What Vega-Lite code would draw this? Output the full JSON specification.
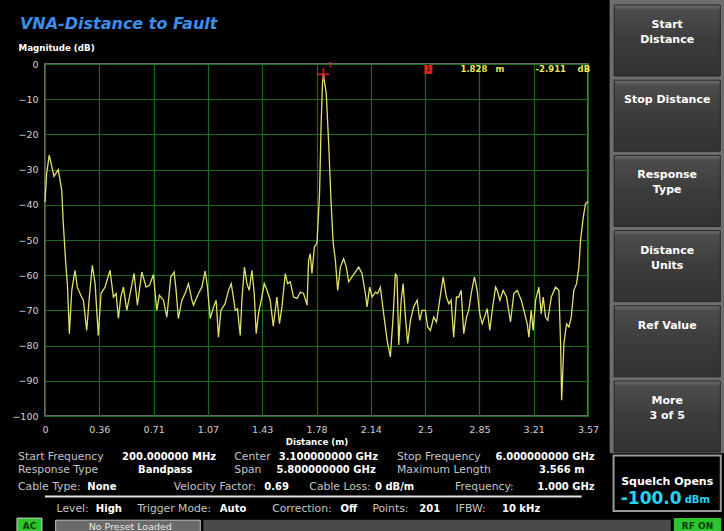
{
  "$schema": "https://vega.github.io/schema/vega-lite/v6.json",
  "width": 543,
  "height": 352,
  "autosize": "none",
  "padding": {"left": 45, "top": 64, "right": 136, "bottom": 115},
  "background": "#000000",
  "config": {
    "view": {"stroke": "#8c8c8c", "strokeWidth": 1.5, "fill": "#000000"},
    "axis": {"labelFont": "DejaVu Sans", "labelFontSize": 9.5, "labelColor": "#d0d0d0", "grid": true, "gridColor": "#1d6a1d", "gridWidth": 1.2, "domain": false, "ticks": false, "titleFont": "DejaVu Sans", "titleFontWeight": "bold", "titleFontSize": 8.7, "titleColor": "#ffffff", "labelFlush": false, "labelOverlap": false},
    "text": {"font": "DejaVu Sans"}
  },
  "layer": [
    {"data": {"values": [{"t": "VNA-Distance to Fault"}]}, "mark": {"type": "text", "align": "left", "baseline": "middle", "fontSize": 16, "fontStyle": "italic", "fontWeight": "bold", "color": "#3a8fea"}, "encoding": {"x": {"datum": -0.1644}, "y": {"datum": 11.3}, "text": {"field": "t"}}},
    {"data": {"values": [{"t": "1"}]}, "mark": {"type": "rect", "fill": "#e02020"}, "encoding": {"x": {"datum": 2.492}, "x2": {"datum": 2.544}, "y": {"datum": -0.28}, "y2": {"datum": -2.84}}},
    {"data": {"values": [{"t": "1"}]}, "mark": {"type": "text", "fontSize": 8, "color": "#3a0000", "baseline": "middle"}, "encoding": {"x": {"datum": 2.518}, "y": {"datum": -1.56}, "text": {"field": "t"}}},
    {"data": {"values": [{"t": "1.828"}]}, "mark": {"type": "text", "fontSize": 8.5, "fontWeight": "bold", "color": "#e6e65a", "align": "left", "baseline": "middle"}, "encoding": {"x": {"datum": 2.7285}, "y": {"datum": -1.5}, "text": {"field": "t"}}},
    {"data": {"values": [{"t": "m"}]}, "mark": {"type": "text", "fontSize": 8.5, "fontWeight": "bold", "color": "#e6e65a", "align": "left", "baseline": "middle"}, "encoding": {"x": {"datum": 2.9586}, "y": {"datum": -1.5}, "text": {"field": "t"}}},
    {"data": {"values": [{"t": "-2.911"}]}, "mark": {"type": "text", "fontSize": 8.5, "fontWeight": "bold", "color": "#e6e65a", "align": "left", "baseline": "middle"}, "encoding": {"x": {"datum": 3.2216}, "y": {"datum": -1.5}, "text": {"field": "t"}}},
    {"data": {"values": [{"t": "dB"}]}, "mark": {"type": "text", "fontSize": 8.5, "fontWeight": "bold", "color": "#e6e65a", "align": "left", "baseline": "middle"}, "encoding": {"x": {"datum": 3.4977}, "y": {"datum": -1.5}, "text": {"field": "t"}}},
    {"data": {"values": [{"t": "Start Frequency"}]}, "mark": {"type": "text", "align": "left", "baseline": "middle", "fontSize": 10.8, "color": "#c4c4c4"}, "encoding": {"x": {"datum": -0.177}, "y": {"datum": -111.6}, "text": {"field": "t"}}},
    {"data": {"values": [{"t": "200.000000 MHz"}]}, "mark": {"type": "text", "align": "left", "baseline": "middle", "fontSize": 10, "fontWeight": "bold", "color": "#ffffff"}, "encoding": {"x": {"datum": 0.506}, "y": {"datum": -111.6}, "text": {"field": "t"}}},
    {"data": {"values": [{"t": "Center"}]}, "mark": {"type": "text", "align": "left", "baseline": "middle", "fontSize": 10.8, "color": "#c4c4c4"}, "encoding": {"x": {"datum": 1.243}, "y": {"datum": -111.6}, "text": {"field": "t"}}},
    {"data": {"values": [{"t": "3.100000000 GHz"}]}, "mark": {"type": "text", "align": "left", "baseline": "middle", "fontSize": 10, "fontWeight": "bold", "color": "#ffffff"}, "encoding": {"x": {"datum": 1.535}, "y": {"datum": -111.6}, "text": {"field": "t"}}},
    {"data": {"values": [{"t": "Stop Frequency"}]}, "mark": {"type": "text", "align": "left", "baseline": "middle", "fontSize": 10.8, "color": "#c4c4c4"}, "encoding": {"x": {"datum": 2.311}, "y": {"datum": -111.6}, "text": {"field": "t"}}},
    {"data": {"values": [{"t": "6.000000000 GHz"}]}, "mark": {"type": "text", "align": "right", "baseline": "middle", "fontSize": 10, "fontWeight": "bold", "color": "#ffffff"}, "encoding": {"x": {"datum": 3.610}, "y": {"datum": -111.6}, "text": {"field": "t"}}},
    {"data": {"values": [{"t": "Response Type"}]}, "mark": {"type": "text", "align": "left", "baseline": "middle", "fontSize": 10.8, "color": "#c4c4c4"}, "encoding": {"x": {"datum": -0.177}, "y": {"datum": -115.3}, "text": {"field": "t"}}},
    {"data": {"values": [{"t": "Bandpass"}]}, "mark": {"type": "text", "align": "left", "baseline": "middle", "fontSize": 10, "fontWeight": "bold", "color": "#ffffff"}, "encoding": {"x": {"datum": 0.611}, "y": {"datum": -115.3}, "text": {"field": "t"}}},
    {"data": {"values": [{"t": "Span"}]}, "mark": {"type": "text", "align": "left", "baseline": "middle", "fontSize": 10.8, "color": "#c4c4c4"}, "encoding": {"x": {"datum": 1.243}, "y": {"datum": -115.3}, "text": {"field": "t"}}},
    {"data": {"values": [{"t": "5.800000000 GHz"}]}, "mark": {"type": "text", "align": "left", "baseline": "middle", "fontSize": 10, "fontWeight": "bold", "color": "#ffffff"}, "encoding": {"x": {"datum": 1.520}, "y": {"datum": -115.3}, "text": {"field": "t"}}},
    {"data": {"values": [{"t": "Maximum Length"}]}, "mark": {"type": "text", "align": "left", "baseline": "middle", "fontSize": 10.8, "color": "#c4c4c4"}, "encoding": {"x": {"datum": 2.311}, "y": {"datum": -115.3}, "text": {"field": "t"}}},
    {"data": {"values": [{"t": "3.566 m"}]}, "mark": {"type": "text", "align": "right", "baseline": "middle", "fontSize": 10, "fontWeight": "bold", "color": "#ffffff"}, "encoding": {"x": {"datum": 3.544}, "y": {"datum": -115.3}, "text": {"field": "t"}}},
    {"data": {"values": [{"t": "Cable Type:"}]}, "mark": {"type": "text", "align": "left", "baseline": "middle", "fontSize": 10.8, "color": "#c4c4c4"}, "encoding": {"x": {"datum": -0.177}, "y": {"datum": -120.2}, "text": {"field": "t"}}},
    {"data": {"values": [{"t": "None"}]}, "mark": {"type": "text", "align": "left", "baseline": "middle", "fontSize": 10, "fontWeight": "bold", "color": "#ffffff"}, "encoding": {"x": {"datum": 0.278}, "y": {"datum": -120.2}, "text": {"field": "t"}}},
    {"data": {"values": [{"t": "Velocity Factor:"}]}, "mark": {"type": "text", "align": "left", "baseline": "middle", "fontSize": 10.8, "color": "#c4c4c4"}, "encoding": {"x": {"datum": 0.845}, "y": {"datum": -120.2}, "text": {"field": "t"}}},
    {"data": {"values": [{"t": "0.69"}]}, "mark": {"type": "text", "align": "left", "baseline": "middle", "fontSize": 10, "fontWeight": "bold", "color": "#ffffff"}, "encoding": {"x": {"datum": 1.440}, "y": {"datum": -120.2}, "text": {"field": "t"}}},
    {"data": {"values": [{"t": "Cable Loss:"}]}, "mark": {"type": "text", "align": "left", "baseline": "middle", "fontSize": 10.8, "color": "#c4c4c4"}, "encoding": {"x": {"datum": 1.736}, "y": {"datum": -120.2}, "text": {"field": "t"}}},
    {"data": {"values": [{"t": "0 dB/m"}]}, "mark": {"type": "text", "align": "left", "baseline": "middle", "fontSize": 10, "fontWeight": "bold", "color": "#ffffff"}, "encoding": {"x": {"datum": 2.167}, "y": {"datum": -120.2}, "text": {"field": "t"}}},
    {"data": {"values": [{"t": "Frequency:"}]}, "mark": {"type": "text", "align": "left", "baseline": "middle", "fontSize": 10.8, "color": "#c4c4c4"}, "encoding": {"x": {"datum": 2.693}, "y": {"datum": -120.2}, "text": {"field": "t"}}},
    {"data": {"values": [{"t": "1.000 GHz"}]}, "mark": {"type": "text", "align": "right", "baseline": "middle", "fontSize": 10, "fontWeight": "bold", "color": "#ffffff"}, "encoding": {"x": {"datum": 3.610}, "y": {"datum": -120.2}, "text": {"field": "t"}}},
    {"data": {"values": [{"t": "Level:"}]}, "mark": {"type": "text", "align": "left", "baseline": "middle", "fontSize": 10.8, "color": "#c4c4c4"}, "encoding": {"x": {"datum": 0.076}, "y": {"datum": -126.4}, "text": {"field": "t"}}},
    {"data": {"values": [{"t": "High"}]}, "mark": {"type": "text", "align": "left", "baseline": "middle", "fontSize": 10, "fontWeight": "bold", "color": "#ffffff"}, "encoding": {"x": {"datum": 0.334}, "y": {"datum": -126.4}, "text": {"field": "t"}}},
    {"data": {"values": [{"t": "Trigger Mode:"}]}, "mark": {"type": "text", "align": "left", "baseline": "middle", "fontSize": 10.8, "color": "#c4c4c4"}, "encoding": {"x": {"datum": 0.607}, "y": {"datum": -126.4}, "text": {"field": "t"}}},
    {"data": {"values": [{"t": "Auto"}]}, "mark": {"type": "text", "align": "left", "baseline": "middle", "fontSize": 10, "fontWeight": "bold", "color": "#ffffff"}, "encoding": {"x": {"datum": 1.148}, "y": {"datum": -126.4}, "text": {"field": "t"}}},
    {"data": {"values": [{"t": "Correction:"}]}, "mark": {"type": "text", "align": "left", "baseline": "middle", "fontSize": 10.8, "color": "#c4c4c4"}, "encoding": {"x": {"datum": 1.492}, "y": {"datum": -126.4}, "text": {"field": "t"}}},
    {"data": {"values": [{"t": "Off"}]}, "mark": {"type": "text", "align": "left", "baseline": "middle", "fontSize": 10, "fontWeight": "bold", "color": "#ffffff"}, "encoding": {"x": {"datum": 1.940}, "y": {"datum": -126.4}, "text": {"field": "t"}}},
    {"data": {"values": [{"t": "Points:"}]}, "mark": {"type": "text", "align": "left", "baseline": "middle", "fontSize": 10.8, "color": "#c4c4c4"}, "encoding": {"x": {"datum": 2.150}, "y": {"datum": -126.4}, "text": {"field": "t"}}},
    {"data": {"values": [{"t": "201"}]}, "mark": {"type": "text", "align": "left", "baseline": "middle", "fontSize": 10, "fontWeight": "bold", "color": "#ffffff"}, "encoding": {"x": {"datum": 2.458}, "y": {"datum": -126.4}, "text": {"field": "t"}}},
    {"data": {"values": [{"t": "IFBW:"}]}, "mark": {"type": "text", "align": "left", "baseline": "middle", "fontSize": 10.8, "color": "#c4c4c4"}, "encoding": {"x": {"datum": 2.696}, "y": {"datum": -126.4}, "text": {"field": "t"}}},
    {"data": {"values": [{"t": "10 kHz"}]}, "mark": {"type": "text", "align": "left", "baseline": "middle", "fontSize": 10, "fontWeight": "bold", "color": "#ffffff"}, "encoding": {"x": {"datum": 3.001}, "y": {"datum": -126.4}, "text": {"field": "t"}}},
    {"data": {"values": [{"t": "separator"}]}, "mark": {"type": "rule", "color": "#e4e4e4", "strokeWidth": 2}, "encoding": {"x": {"datum": 0}, "x2": {"datum": 3.524}, "y": {"datum": -122.9}}},
    {"data": {"values": [{"t": "panel"}]}, "mark": {"type": "rect", "fill": "#6e6e6e"}, "encoding": {"x": {"datum": 3.708}, "x2": {"datum": 4.47}, "y": {"datum": 18.3}, "y2": {"datum": -110.6}}},
    {"data": {"values": [{"label": "Start\nDistance"}]}, "mark": {"type": "rect", "stroke": "#262626", "strokeWidth": 1, "fill": {"gradient": "linear", "x1": 0, "y1": 0, "x2": 0, "y2": 1, "stops": [{"offset": 0, "color": "#707070"}, {"offset": 0.07, "color": "#4c4c4c"}, {"offset": 0.5, "color": "#3c3c3c"}, {"offset": 1, "color": "#323232"}]}}, "encoding": {"x": {"datum": 3.7374}, "x2": {"datum": 4.4346}, "y": {"datum": 16.761}, "y2": {"datum": -3.409}}},
    {"data": {"values": [{"label": "Start\nDistance"}]}, "mark": {"type": "text", "align": "center", "baseline": "top", "lineBreak": "\n", "lineHeight": 15, "fontSize": 11, "fontWeight": "bold", "color": "#ffffff"}, "encoding": {"x": {"datum": 4.086}, "y": {"datum": 12.784}, "text": {"field": "label"}}},
    {"data": {"values": [{"label": "Stop Distance"}]}, "mark": {"type": "rect", "stroke": "#262626", "strokeWidth": 1, "fill": {"gradient": "linear", "x1": 0, "y1": 0, "x2": 0, "y2": 1, "stops": [{"offset": 0, "color": "#707070"}, {"offset": 0.07, "color": "#4c4c4c"}, {"offset": 0.5, "color": "#3c3c3c"}, {"offset": 1, "color": "#323232"}]}}, "encoding": {"x": {"datum": 3.7374}, "x2": {"datum": 4.4346}, "y": {"datum": -4.602}, "y2": {"datum": -24.773}}},
    {"data": {"values": [{"label": "Stop Distance"}]}, "mark": {"type": "text", "align": "center", "baseline": "top", "lineBreak": "\n", "lineHeight": 15, "fontSize": 11, "fontWeight": "bold", "color": "#ffffff"}, "encoding": {"x": {"datum": 4.086}, "y": {"datum": -8.58}, "text": {"field": "label"}}},
    {"data": {"values": [{"label": "Response\nType"}]}, "mark": {"type": "rect", "stroke": "#262626", "strokeWidth": 1, "fill": {"gradient": "linear", "x1": 0, "y1": 0, "x2": 0, "y2": 1, "stops": [{"offset": 0, "color": "#707070"}, {"offset": 0.07, "color": "#4c4c4c"}, {"offset": 0.5, "color": "#3c3c3c"}, {"offset": 1, "color": "#323232"}]}}, "encoding": {"x": {"datum": 3.7374}, "x2": {"datum": 4.4346}, "y": {"datum": -25.966}, "y2": {"datum": -46.136}}},
    {"data": {"values": [{"label": "Response\nType"}]}, "mark": {"type": "text", "align": "center", "baseline": "top", "lineBreak": "\n", "lineHeight": 15, "fontSize": 11, "fontWeight": "bold", "color": "#ffffff"}, "encoding": {"x": {"datum": 4.086}, "y": {"datum": -29.943}, "text": {"field": "label"}}},
    {"data": {"values": [{"label": "Distance\nUnits"}]}, "mark": {"type": "rect", "stroke": "#262626", "strokeWidth": 1, "fill": {"gradient": "linear", "x1": 0, "y1": 0, "x2": 0, "y2": 1, "stops": [{"offset": 0, "color": "#707070"}, {"offset": 0.07, "color": "#4c4c4c"}, {"offset": 0.5, "color": "#3c3c3c"}, {"offset": 1, "color": "#323232"}]}}, "encoding": {"x": {"datum": 3.7374}, "x2": {"datum": 4.4346}, "y": {"datum": -47.33}, "y2": {"datum": -67.5}}},
    {"data": {"values": [{"label": "Distance\nUnits"}]}, "mark": {"type": "text", "align": "center", "baseline": "top", "lineBreak": "\n", "lineHeight": 15, "fontSize": 11, "fontWeight": "bold", "color": "#ffffff"}, "encoding": {"x": {"datum": 4.086}, "y": {"datum": -51.307}, "text": {"field": "label"}}},
    {"data": {"values": [{"label": "Ref Value"}]}, "mark": {"type": "rect", "stroke": "#262626", "strokeWidth": 1, "fill": {"gradient": "linear", "x1": 0, "y1": 0, "x2": 0, "y2": 1, "stops": [{"offset": 0, "color": "#707070"}, {"offset": 0.07, "color": "#4c4c4c"}, {"offset": 0.5, "color": "#3c3c3c"}, {"offset": 1, "color": "#323232"}]}}, "encoding": {"x": {"datum": 3.7374}, "x2": {"datum": 4.4346}, "y": {"datum": -68.693}, "y2": {"datum": -88.864}}},
    {"data": {"values": [{"label": "Ref Value"}]}, "mark": {"type": "text", "align": "center", "baseline": "top", "lineBreak": "\n", "lineHeight": 15, "fontSize": 11, "fontWeight": "bold", "color": "#ffffff"}, "encoding": {"x": {"datum": 4.086}, "y": {"datum": -72.67}, "text": {"field": "label"}}},
    {"data": {"values": [{"label": "More\n3 of 5"}]}, "mark": {"type": "rect", "stroke": "#262626", "strokeWidth": 1, "fill": {"gradient": "linear", "x1": 0, "y1": 0, "x2": 0, "y2": 1, "stops": [{"offset": 0, "color": "#707070"}, {"offset": 0.07, "color": "#4c4c4c"}, {"offset": 0.5, "color": "#3c3c3c"}, {"offset": 1, "color": "#323232"}]}}, "encoding": {"x": {"datum": 3.7374}, "x2": {"datum": 4.4346}, "y": {"datum": -90.057}, "y2": {"datum": -110.227}}},
    {"data": {"values": [{"label": "More\n3 of 5"}]}, "mark": {"type": "text", "align": "center", "baseline": "top", "lineBreak": "\n", "lineHeight": 15, "fontSize": 11, "fontWeight": "bold", "color": "#ffffff"}, "encoding": {"x": {"datum": 4.086}, "y": {"datum": -94.034}, "text": {"field": "label"}}},
    {"data": {"values": [{"t": "squelch"}]}, "mark": {"type": "rect", "fill": "#000000", "stroke": "#9a9a9a", "strokeWidth": 2}, "encoding": {"x": {"datum": 3.734}, "x2": {"datum": 4.438}, "y": {"datum": -111.2}, "y2": {"datum": -127.0}}},
    {"data": {"values": [{"t": "Squelch Opens"}]}, "mark": {"type": "text", "align": "center", "baseline": "middle", "fontSize": 11, "fontWeight": "bold", "color": "#ffffff"}, "encoding": {"x": {"datum": 4.086}, "y": {"datum": -118.8}, "text": {"field": "t"}}},
    {"data": {"values": [{"t": "-100.0"}]}, "mark": {"type": "text", "align": "right", "baseline": "middle", "fontSize": 17, "fontWeight": "bold", "color": "#22d6f0"}, "encoding": {"x": {"datum": 4.181}, "y": {"datum": -123.5}, "text": {"field": "t"}}},
    {"data": {"values": [{"t": "dBm"}]}, "mark": {"type": "text", "align": "left", "baseline": "middle", "fontSize": 10, "fontWeight": "bold", "color": "#22d6f0"}, "encoding": {"x": {"datum": 4.201}, "y": {"datum": -123.9}, "text": {"field": "t"}}},
    {"data": {"values": [{"t": "bar"}]}, "mark": {"type": "rect", "fill": "#4a4a4a"}, "encoding": {"x": {"datum": 1.04}, "x2": {"datum": 4.11}, "y": {"datum": -129.5}, "y2": {"datum": -133}}},
    {"data": {"values": [{"t": "AC"}]}, "mark": {"type": "rect", "fill": "#2ec42e", "stroke": "#cfcfcf", "strokeWidth": 1}, "encoding": {"x": {"datum": -0.184}, "x2": {"datum": -0.02}, "y": {"datum": -129.0}, "y2": {"datum": -133}}},
    {"data": {"values": [{"t": "AC"}]}, "mark": {"type": "text", "align": "center", "baseline": "middle", "fontSize": 9, "fontWeight": "bold", "color": "#0b3d0b"}, "encoding": {"x": {"datum": -0.102}, "y": {"datum": -131.2}, "text": {"field": "t"}}},
    {"data": {"values": [{"t": "No Preset Loaded"}]}, "mark": {"type": "rect", "fill": "#6a6a6a", "stroke": "#bdbdbd", "strokeWidth": 1}, "encoding": {"x": {"datum": 0.07}, "x2": {"datum": 1.02}, "y": {"datum": -129.6}, "y2": {"datum": -133}}},
    {"data": {"values": [{"t": "No Preset Loaded"}]}, "mark": {"type": "text", "align": "center", "baseline": "middle", "fontSize": 9.5, "color": "#e6e6e6"}, "encoding": {"x": {"datum": 0.56}, "y": {"datum": -131.6}, "text": {"field": "t"}}},
    {"data": {"values": [{"t": "RF ON"}]}, "mark": {"type": "rect", "fill": "#2ec42e"}, "encoding": {"x": {"datum": 4.13}, "x2": {"datum": 4.44}, "y": {"datum": -129.0}, "y2": {"datum": -133}}},
    {"data": {"values": [{"t": "RF ON"}]}, "mark": {"type": "text", "align": "center", "baseline": "middle", "fontSize": 9, "fontWeight": "bold", "color": "#0b3d0b"}, "encoding": {"x": {"datum": 4.285}, "y": {"datum": -131.2}, "text": {"field": "t"}}},
    {
      "data": {"values": [
        {"distance_m":0.000,"magnitude_db":-39.2},{"distance_m":0.011,"magnitude_db":-31.0},{"distance_m":0.028,"magnitude_db":-25.9},{"distance_m":0.059,"magnitude_db":-31.9},{"distance_m":0.087,"magnitude_db":-30.0},{"distance_m":0.110,"magnitude_db":-35.9},{"distance_m":0.120,"magnitude_db":-45.3},{"distance_m":0.138,"magnitude_db":-57.7},{"distance_m":0.147,"magnitude_db":-62.4},{"distance_m":0.160,"magnitude_db":-76.6},{"distance_m":0.176,"magnitude_db":-64.3},{"distance_m":0.197,"magnitude_db":-58.6},{"distance_m":0.212,"magnitude_db":-63.4},{"distance_m":0.235,"magnitude_db":-65.7},{"distance_m":0.252,"magnitude_db":-67.1},{"distance_m":0.274,"magnitude_db":-75.7},{"distance_m":0.291,"magnitude_db":-66.2},{"distance_m":0.311,"magnitude_db":-57.2},{"distance_m":0.329,"magnitude_db":-62.4},{"distance_m":0.350,"magnitude_db":-77.1},{"distance_m":0.368,"magnitude_db":-65.2},{"distance_m":0.394,"magnitude_db":-63.4},{"distance_m":0.427,"magnitude_db":-58.6},{"distance_m":0.449,"magnitude_db":-66.2},{"distance_m":0.467,"magnitude_db":-65.2},{"distance_m":0.482,"magnitude_db":-72.3},{"distance_m":0.498,"magnitude_db":-66.2},{"distance_m":0.515,"magnitude_db":-63.4},{"distance_m":0.537,"magnitude_db":-70.0},{"distance_m":0.559,"magnitude_db":-65.2},{"distance_m":0.585,"magnitude_db":-59.5},{"distance_m":0.607,"magnitude_db":-68.5},{"distance_m":0.636,"magnitude_db":-59.1},{"distance_m":0.664,"magnitude_db":-63.4},{"distance_m":0.686,"magnitude_db":-62.9},{"distance_m":0.712,"magnitude_db":-59.8},{"distance_m":0.734,"magnitude_db":-70.0},{"distance_m":0.751,"magnitude_db":-65.7},{"distance_m":0.778,"magnitude_db":-67.1},{"distance_m":0.800,"magnitude_db":-71.9},{"distance_m":0.826,"magnitude_db":-60.5},{"distance_m":0.848,"magnitude_db":-59.1},{"distance_m":0.861,"magnitude_db":-64.3},{"distance_m":0.876,"magnitude_db":-72.3},{"distance_m":0.899,"magnitude_db":-67.1},{"distance_m":0.920,"magnitude_db":-65.2},{"distance_m":0.942,"magnitude_db":-62.4},{"distance_m":0.965,"magnitude_db":-67.1},{"distance_m":0.975,"magnitude_db":-68.5},{"distance_m":1.008,"magnitude_db":-65.2},{"distance_m":1.030,"magnitude_db":-63.4},{"distance_m":1.052,"magnitude_db":-58.8},{"distance_m":1.067,"magnitude_db":-63.4},{"distance_m":1.085,"magnitude_db":-72.3},{"distance_m":1.107,"magnitude_db":-69.0},{"distance_m":1.124,"magnitude_db":-67.1},{"distance_m":1.139,"magnitude_db":-77.6},{"distance_m":1.155,"magnitude_db":-70.0},{"distance_m":1.183,"magnitude_db":-68.1},{"distance_m":1.205,"magnitude_db":-64.3},{"distance_m":1.223,"magnitude_db":-62.4},{"distance_m":1.238,"magnitude_db":-66.6},{"distance_m":1.249,"magnitude_db":-70.0},{"distance_m":1.264,"magnitude_db":-69.5},{"distance_m":1.282,"magnitude_db":-77.1},{"distance_m":1.293,"magnitude_db":-67.1},{"distance_m":1.310,"magnitude_db":-57.7},{"distance_m":1.326,"magnitude_db":-62.4},{"distance_m":1.341,"magnitude_db":-64.3},{"distance_m":1.359,"magnitude_db":-58.6},{"distance_m":1.374,"magnitude_db":-65.2},{"distance_m":1.387,"magnitude_db":-76.6},{"distance_m":1.402,"magnitude_db":-70.9},{"distance_m":1.420,"magnitude_db":-67.1},{"distance_m":1.440,"magnitude_db":-62.4},{"distance_m":1.458,"magnitude_db":-64.3},{"distance_m":1.479,"magnitude_db":-67.1},{"distance_m":1.499,"magnitude_db":-74.5},{"distance_m":1.523,"magnitude_db":-66.2},{"distance_m":1.540,"magnitude_db":-73.8},{"distance_m":1.556,"magnitude_db":-69.0},{"distance_m":1.578,"magnitude_db":-59.5},{"distance_m":1.593,"magnitude_db":-62.4},{"distance_m":1.611,"magnitude_db":-61.9},{"distance_m":1.632,"magnitude_db":-66.2},{"distance_m":1.655,"magnitude_db":-66.6},{"distance_m":1.677,"magnitude_db":-64.8},{"distance_m":1.698,"magnitude_db":-65.2},{"distance_m":1.721,"magnitude_db":-68.5},{"distance_m":1.731,"magnitude_db":-55.8},{"distance_m":1.742,"magnitude_db":-53.9},{"distance_m":1.753,"magnitude_db":-59.5},{"distance_m":1.769,"magnitude_db":-52.0},{"distance_m":1.786,"magnitude_db":-51.0},{"distance_m":1.803,"magnitude_db":-36.8},{"distance_m":1.813,"magnitude_db":-17.9},{"distance_m":1.822,"magnitude_db":-5.6},{"distance_m":1.828,"magnitude_db":-2.9},{"distance_m":1.847,"magnitude_db":-8.4},{"distance_m":1.863,"magnitude_db":-22.6},{"distance_m":1.878,"magnitude_db":-38.7},{"distance_m":1.892,"magnitude_db":-50.6},{"distance_m":1.907,"magnitude_db":-55.8},{"distance_m":1.922,"magnitude_db":-64.3},{"distance_m":1.940,"magnitude_db":-57.7},{"distance_m":1.961,"magnitude_db":-55.3},{"distance_m":1.979,"magnitude_db":-57.7},{"distance_m":1.994,"magnitude_db":-61.9},{"distance_m":2.016,"magnitude_db":-60.5},{"distance_m":2.038,"magnitude_db":-59.1},{"distance_m":2.060,"magnitude_db":-57.7},{"distance_m":2.082,"magnitude_db":-59.5},{"distance_m":2.104,"magnitude_db":-65.2},{"distance_m":2.115,"magnitude_db":-69.0},{"distance_m":2.132,"magnitude_db":-63.4},{"distance_m":2.148,"magnitude_db":-66.2},{"distance_m":2.170,"magnitude_db":-64.8},{"distance_m":2.185,"magnitude_db":-65.2},{"distance_m":2.202,"magnitude_db":-63.4},{"distance_m":2.224,"magnitude_db":-70.9},{"distance_m":2.247,"magnitude_db":-78.5},{"distance_m":2.268,"magnitude_db":-83.2},{"distance_m":2.286,"magnitude_db":-71.9},{"distance_m":2.301,"magnitude_db":-59.5},{"distance_m":2.312,"magnitude_db":-60.5},{"distance_m":2.323,"magnitude_db":-79.8},{"distance_m":2.339,"magnitude_db":-67.1},{"distance_m":2.352,"magnitude_db":-62.4},{"distance_m":2.367,"magnitude_db":-71.9},{"distance_m":2.382,"magnitude_db":-79.4},{"distance_m":2.400,"magnitude_db":-72.8},{"distance_m":2.421,"magnitude_db":-69.0},{"distance_m":2.444,"magnitude_db":-67.1},{"distance_m":2.461,"magnitude_db":-72.8},{"distance_m":2.477,"magnitude_db":-70.0},{"distance_m":2.498,"magnitude_db":-70.0},{"distance_m":2.513,"magnitude_db":-74.7},{"distance_m":2.531,"magnitude_db":-75.7},{"distance_m":2.553,"magnitude_db":-71.9},{"distance_m":2.571,"magnitude_db":-73.3},{"distance_m":2.592,"magnitude_db":-67.1},{"distance_m":2.615,"magnitude_db":-60.5},{"distance_m":2.636,"magnitude_db":-66.2},{"distance_m":2.652,"magnitude_db":-68.1},{"distance_m":2.667,"magnitude_db":-67.1},{"distance_m":2.684,"magnitude_db":-77.6},{"distance_m":2.702,"magnitude_db":-66.2},{"distance_m":2.717,"magnitude_db":-66.2},{"distance_m":2.733,"magnitude_db":-64.3},{"distance_m":2.750,"magnitude_db":-76.6},{"distance_m":2.768,"magnitude_db":-71.9},{"distance_m":2.783,"magnitude_db":-70.0},{"distance_m":2.799,"magnitude_db":-65.2},{"distance_m":2.820,"magnitude_db":-60.5},{"distance_m":2.838,"magnitude_db":-64.3},{"distance_m":2.855,"magnitude_db":-70.9},{"distance_m":2.871,"magnitude_db":-73.8},{"distance_m":2.886,"magnitude_db":-71.9},{"distance_m":2.904,"magnitude_db":-69.5},{"distance_m":2.921,"magnitude_db":-75.7},{"distance_m":2.937,"magnitude_db":-70.0},{"distance_m":2.959,"magnitude_db":-63.4},{"distance_m":2.970,"magnitude_db":-64.3},{"distance_m":2.987,"magnitude_db":-67.1},{"distance_m":3.009,"magnitude_db":-64.3},{"distance_m":3.031,"magnitude_db":-66.2},{"distance_m":3.057,"magnitude_db":-73.3},{"distance_m":3.079,"magnitude_db":-65.2},{"distance_m":3.101,"magnitude_db":-64.3},{"distance_m":3.128,"magnitude_db":-67.1},{"distance_m":3.145,"magnitude_db":-70.0},{"distance_m":3.167,"magnitude_db":-73.8},{"distance_m":3.178,"magnitude_db":-77.6},{"distance_m":3.193,"magnitude_db":-70.0},{"distance_m":3.206,"magnitude_db":-75.7},{"distance_m":3.222,"magnitude_db":-67.1},{"distance_m":3.243,"magnitude_db":-63.4},{"distance_m":3.259,"magnitude_db":-70.9},{"distance_m":3.272,"magnitude_db":-66.2},{"distance_m":3.287,"magnitude_db":-71.9},{"distance_m":3.302,"magnitude_db":-72.8},{"distance_m":3.325,"magnitude_db":-66.2},{"distance_m":3.353,"magnitude_db":-63.4},{"distance_m":3.375,"magnitude_db":-64.3},{"distance_m":3.386,"magnitude_db":-79.4},{"distance_m":3.393,"magnitude_db":-95.5},{"distance_m":3.408,"magnitude_db":-79.4},{"distance_m":3.425,"magnitude_db":-73.8},{"distance_m":3.441,"magnitude_db":-74.7},{"distance_m":3.456,"magnitude_db":-71.9},{"distance_m":3.473,"magnitude_db":-64.3},{"distance_m":3.491,"magnitude_db":-62.4},{"distance_m":3.506,"magnitude_db":-57.7},{"distance_m":3.517,"magnitude_db":-50.1},{"distance_m":3.535,"magnitude_db":-43.5},{"distance_m":3.550,"magnitude_db":-39.7},{"distance_m":3.566,"magnitude_db":-39.0}
      ]},
      "mark": {"type": "line", "color": "#e0e06a", "strokeWidth": 1.3},
      "encoding": {
        "x": {"field": "distance_m", "type": "quantitative", "scale": {"domain": [0, 3.566], "nice": false, "zero": false},
              "axis": {"title": "Distance (m)", "values": [0, 0.3566, 0.7132, 1.0698, 1.4264, 1.783, 2.1396, 2.4962, 2.8528, 3.2094, 3.566], "tickCount": 12, "format": ".2~f", "labelPadding": 8, "titlePadding": 4}},
        "y": {"field": "magnitude_db", "type": "quantitative", "scale": {"domain": [-100, 0], "nice": false, "zero": false},
              "axis": {"title": "Magnitude (dB)", "values": [-100, -90, -80, -70, -60, -50, -40, -30, -20, -10, 0], "tickCount": 12, "labelPadding": 7, "titleAngle": 0, "titleAlign": "left", "titleBaseline": "middle", "titleX": -27, "titleY": -17}}
      }
    },
    {
      "data": {"values": [{"marker": "1", "distance_m": 1.828, "magnitude_db": -2.911}]},
      "mark": {"type": "point", "shape": "M-1,0H1M0,-1V1", "size": 150, "filled": false, "stroke": "#ff2a2a", "strokeWidth": 2},
      "encoding": {"x": {"field": "distance_m", "type": "quantitative"}, "y": {"field": "magnitude_db", "type": "quantitative"}}
    },
    {
      "data": {"values": [{"marker": "1", "distance_m": 1.828, "magnitude_db": -2.911}]},
      "mark": {"type": "text", "color": "#ff2a2a", "fontSize": 7, "dx": 7, "dy": -9},
      "encoding": {"x": {"field": "distance_m", "type": "quantitative"}, "y": {"field": "magnitude_db", "type": "quantitative"}, "text": {"field": "marker"}}
    }
  ]
}
